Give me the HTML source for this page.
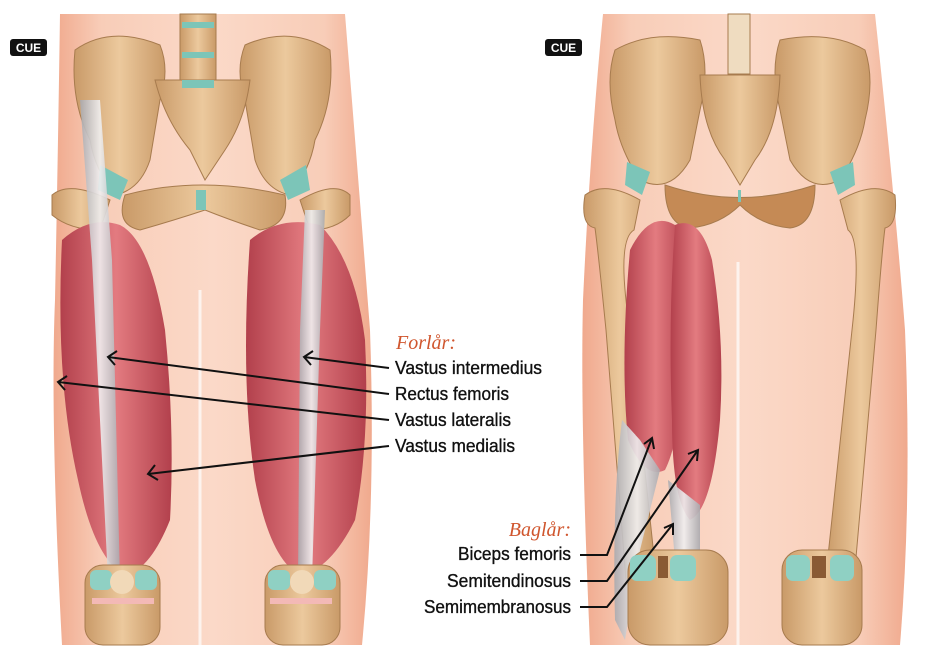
<!DOCTYPE html>
<html><head><meta charset="utf-8"><style>
html,body{margin:0;padding:0;background:#fff;}
svg{display:block}
.t{font-family:"Liberation Sans",sans-serif;font-size:18px;fill:#111;stroke:#111;stroke-width:0.35;}
.h{font-family:"Liberation Serif",serif;font-style:italic;font-size:20px;fill:#d0562e;}
</style></head><body>
<svg width="946" height="653" viewBox="0 0 946 653" xmlns="http://www.w3.org/2000/svg">
<defs>
<linearGradient id="skin" x1="0" x2="1"><stop offset="0" stop-color="#f0a98d"/><stop offset="0.15" stop-color="#f8cdb8"/><stop offset="0.5" stop-color="#fbd9c8"/><stop offset="0.85" stop-color="#f8cdb8"/><stop offset="1" stop-color="#f0a98d"/></linearGradient>
<linearGradient id="bone" x1="0" x2="1"><stop offset="0" stop-color="#c99a68"/><stop offset="0.5" stop-color="#ecc99d"/><stop offset="1" stop-color="#c99a68"/></linearGradient>
<linearGradient id="mus" x1="0" x2="1"><stop offset="0" stop-color="#b2404c"/><stop offset="0.5" stop-color="#e37b80"/><stop offset="1" stop-color="#b2404c"/></linearGradient>
<linearGradient id="ten" x1="0" x2="1"><stop offset="0" stop-color="#a9a9ae"/><stop offset="0.5" stop-color="#f0eff0"/><stop offset="1" stop-color="#a9a9ae"/></linearGradient>
</defs>
<!-- LEFT PANEL skin -->
<path d="M60 14 L345 14 Q360 200 370 330 Q376 500 362 645 L62 645 Q50 420 55 300 Q58 150 60 14Z" fill="url(#skin)"/>
<path d="M200 290 L200 645" stroke="#fff" stroke-width="3" opacity="0.7"/>
<g fill="url(#bone)" stroke="#a77b4e" stroke-width="1">
<rect x="180" y="14" width="36" height="70"/>
<path d="M75 50 Q110 25 160 45 Q170 70 160 100 L150 160 Q140 190 115 195 Q95 170 90 140 Q70 100 75 50Z"/>
<path d="M330 50 Q290 25 245 45 Q235 70 245 100 L255 160 Q265 190 290 195 Q310 170 315 140 Q335 100 330 50Z"/>
<path d="M155 80 L250 80 Q245 120 225 150 L205 180 L190 150 Q165 120 155 80Z"/>
<path d="M125 195 Q200 175 285 195 Q290 225 260 230 Q230 220 205 210 Q175 220 140 230 Q115 225 125 195Z"/>
<path d="M52 195 Q70 180 110 200 L100 230 Q70 230 52 215Z"/>
<path d="M350 195 Q335 180 300 200 L310 230 Q335 230 350 215Z"/>
</g>
<g fill="#7cc5b8"><rect x="182" y="22" width="32" height="6"/><rect x="182" y="52" width="32" height="6"/><rect x="182" y="80" width="32" height="8"/><rect x="196" y="190" width="10" height="20"/>
<path d="M100 165 L128 180 L120 200 L98 190Z"/><path d="M306 165 L280 180 L288 200 L310 190Z"/></g>
<!-- left legs muscles -->
<path d="M62 240 Q90 215 120 225 Q150 240 165 330 Q175 430 170 520 Q150 570 125 575 Q95 560 78 480 Q55 380 62 240Z" fill="url(#mus)"/>
<path d="M250 240 Q280 215 320 225 Q355 260 365 340 Q370 440 355 520 Q330 570 300 575 Q270 560 255 480 Q240 380 250 240Z" fill="url(#mus)"/>
<path d="M80 100 L100 100 L112 260 L120 580 L108 580 L92 260Z" fill="url(#ten)" opacity="0.9"/>
<path d="M305 210 L325 210 L320 330 L312 580 L298 580 L300 330Z" fill="url(#ten)" opacity="0.9"/>
<g fill="url(#bone)" stroke="#a77b4e" stroke-width="1">
<rect x="85" y="565" width="75" height="80" rx="18"/><rect x="265" y="565" width="75" height="80" rx="18"/></g>
<g fill="#8fd0c3"><rect x="90" y="570" width="22" height="20" rx="6"/><rect x="135" y="570" width="22" height="20" rx="6"/><rect x="268" y="570" width="22" height="20" rx="6"/><rect x="314" y="570" width="22" height="20" rx="6"/></g>
<circle cx="122" cy="582" r="12" fill="#f1d9b8"/><circle cx="302" cy="582" r="12" fill="#f1d9b8"/>
<rect x="92" y="598" width="62" height="6" fill="#f3b9b6"/><rect x="270" y="598" width="62" height="6" fill="#f3b9b6"/>
<!-- RIGHT PANEL skin -->
<path d="M603 14 L875 14 Q895 200 905 330 Q912 500 900 645 L590 645 Q580 420 583 300 Q590 150 603 14Z" fill="url(#skin)"/>
<path d="M738 262 L738 645" stroke="#fff" stroke-width="3" opacity="0.7"/>
<g fill="url(#bone)" stroke="#a77b4e" stroke-width="1">
<rect x="728" y="14" width="22" height="60" fill="#efdcc0"/>
<path d="M615 50 Q650 30 700 40 Q710 70 700 110 L690 160 Q670 195 640 180 Q620 150 615 120 Q605 80 615 50Z"/>
<path d="M865 50 Q830 30 780 40 Q770 70 780 110 L790 160 Q810 195 840 180 Q860 150 865 120 Q875 80 865 50Z"/>
<path d="M700 75 L780 75 Q778 130 755 160 L740 185 L725 160 Q702 130 700 75Z"/>
<path d="M665 185 Q740 210 815 185 Q815 225 790 228 Q760 225 740 205 Q720 225 690 228 Q665 225 665 185Z" fill="#c58a55"/>
<path d="M585 195 Q605 180 640 200 L634 230 Q616 240 630 330 L656 575 L626 580 L606 330 Q598 250 595 228 Q580 225 585 195Z"/>
<path d="M895 195 Q875 180 840 200 L848 230 Q862 240 852 330 L826 575 L854 580 L876 330 Q882 250 885 228 Q898 225 895 195Z"/>
</g>
<g fill="#7cc5b8"><path d="M627 162 L650 172 L642 195 L625 185Z"/><path d="M853 162 L830 172 L838 195 L855 185Z"/><rect x="738" y="190" width="3" height="12"/></g>
<path d="M630 250 Q650 210 675 225 Q690 280 686 360 Q680 440 665 470 Q645 480 628 440 Q620 360 630 250Z" fill="url(#mus)"/>
<path d="M675 225 Q700 215 712 260 Q725 340 720 420 Q712 510 690 520 Q672 500 672 420 Q668 320 675 225Z" fill="url(#mus)"/>
<path d="M622 420 L640 440 L660 470 L640 550 L625 640 L615 620 Q612 500 622 420Z" fill="url(#ten)" opacity="0.9"/>
<path d="M668 480 L700 505 L700 600 L680 620 L675 560Z" fill="url(#ten)" opacity="0.9"/>
<g fill="url(#bone)" stroke="#a77b4e" stroke-width="1">
<rect x="628" y="550" width="100" height="95" rx="22"/><rect x="782" y="550" width="80" height="95" rx="20"/></g>
<g fill="#8fd0c3"><rect x="630" y="555" width="26" height="26" rx="7"/><rect x="670" y="555" width="26" height="26" rx="7"/><rect x="786" y="555" width="24" height="26" rx="7"/><rect x="830" y="555" width="24" height="26" rx="7"/></g>
<rect x="658" y="556" width="10" height="22" fill="#8a5a34"/><rect x="812" y="556" width="14" height="22" fill="#8a5a34"/>
<!-- CUE logos -->
<rect x="10" y="39" width="37" height="17" rx="3" fill="#111"/><text x="28.5" y="52" text-anchor="middle" font-family="Liberation Sans,sans-serif" font-weight="bold" font-size="12" fill="#fff">CUE</text>
<rect x="545" y="39" width="37" height="17" rx="3" fill="#111"/><text x="563.5" y="52" text-anchor="middle" font-family="Liberation Sans,sans-serif" font-weight="bold" font-size="12" fill="#fff">CUE</text>
<!-- labels -->
<text class="h" x="396" y="349">Forlår:</text>
<text class="t" x="395" y="374" textLength="147" lengthAdjust="spacingAndGlyphs">Vastus intermedius</text>
<text class="t" x="395" y="400" textLength="114" lengthAdjust="spacingAndGlyphs">Rectus femoris</text>
<text class="t" x="395" y="426" textLength="116" lengthAdjust="spacingAndGlyphs">Vastus lateralis</text>
<text class="t" x="395" y="452" textLength="120" lengthAdjust="spacingAndGlyphs">Vastus medialis</text>
<text class="h" x="571" y="536" text-anchor="end">Baglår:</text>
<text class="t" x="458" y="560" textLength="113" lengthAdjust="spacingAndGlyphs">Biceps femoris</text>
<text class="t" x="447" y="587" textLength="124" lengthAdjust="spacingAndGlyphs">Semitendinosus</text>
<text class="t" x="424" y="613" textLength="147" lengthAdjust="spacingAndGlyphs">Semimembranosus</text>
<g stroke="#111" stroke-width="2" fill="none">
<path d="M389 368 L304 357"/><path d="M313 351 L304 357 L311 365"/>
<path d="M389 394 L108 357"/><path d="M117 351 L108 357 L115 365"/>
<path d="M389 420 L58 382"/><path d="M67 376 L58 382 L65 390"/>
<path d="M389 446 L148 474"/><path d="M155 465 L148 474 L158 480"/>
<path d="M580 555 L607 555 L652 438"/><path d="M644 444 L652 438 L654 449"/>
<path d="M580 581 L607 581 L698 450"/><path d="M688 454 L698 450 L697 461"/>
<path d="M580 607 L607 607 L673 524"/><path d="M664 528 L673 524 L673 535"/>
</g>
</svg>
</body></html>
